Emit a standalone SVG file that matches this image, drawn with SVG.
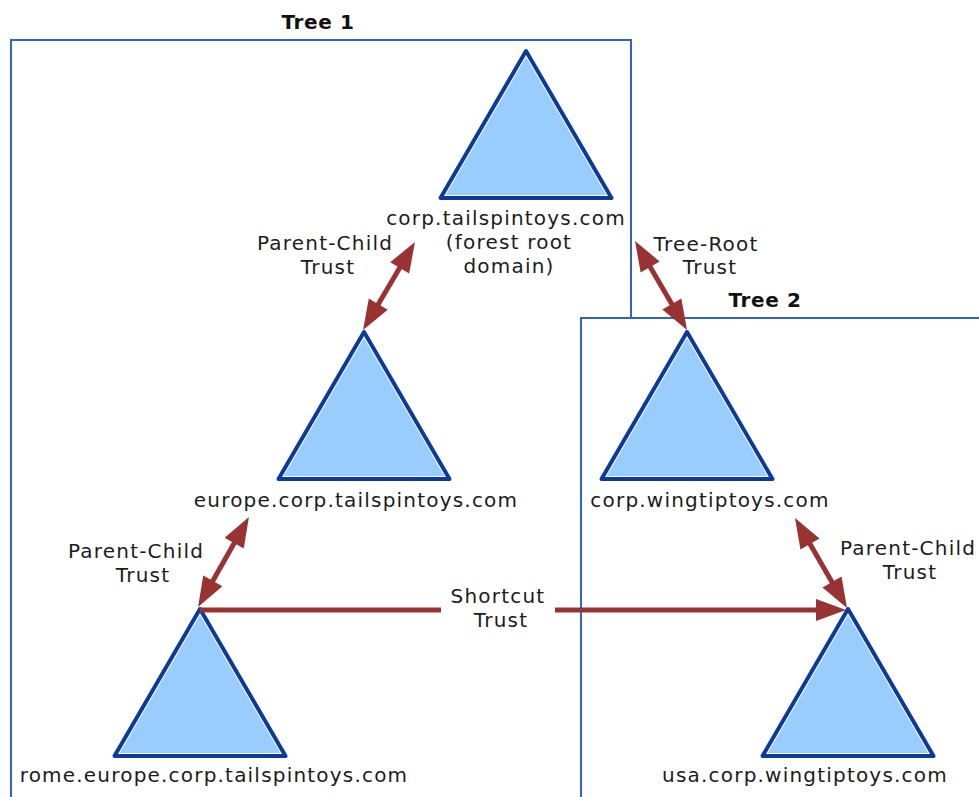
<svg xmlns="http://www.w3.org/2000/svg" xmlns:xlink="http://www.w3.org/1999/xlink" width="979" height="797" viewBox="0 0 979 797">
  <style>
    .box { fill: #ffffff; stroke: #3063c4; stroke-width: 2; }
    .tri-fill { fill: #99ccff; }
    .tri-glint { fill: none; stroke: #ffffff; stroke-width: 6; }
    .tri-edge { fill: none; stroke: #0b3a9c; stroke-width: 4; stroke-linejoin: round; }
    .label { font-family: "DejaVu Sans", Verdana, sans-serif; font-size: 20px; letter-spacing: 1.2px; fill: #1c1c1c; text-anchor: middle; }
    .title { font-family: "DejaVu Sans", Verdana, sans-serif; font-size: 20px; font-weight: bold; letter-spacing: 0.6px; fill: #111111; text-anchor: middle; }
    .trust { fill: none; stroke: #993333; stroke-width: 5; }
  </style>
  <defs>
    <!-- domain triangle, apex at the origin -->
    <path id="domain" d="M0,0 L85.5,147 L-85.5,147 Z"/>
    <clipPath id="domainClip" clipPathUnits="userSpaceOnUse">
      <use xlink:href="#domain"/>
    </clipPath>
    <marker id="head" markerUnits="userSpaceOnUse" markerWidth="30" markerHeight="22"
            refX="10" refY="11" orient="auto-start-reverse" overflow="visible">
      <path d="M0,0 L30,11 L0,22 Z" fill="#993333"/>
    </marker>
  </defs>

  <!-- tree containers -->
  <g id="tree1">
    <rect class="box" x="11" y="40" width="620" height="900"/>
    <text class="title" x="318" y="29">Tree 1</text>
  </g>
  <g id="tree2">
    <rect class="box" x="581" y="318" width="500" height="600"/>
    <text class="title" x="765" y="307">Tree 2</text>
  </g>

  <!-- domains -->
  <g id="corp-tailspintoys">
    <g transform="translate(526,51)">
      <use xlink:href="#domain" class="tri-fill"/>
      <use xlink:href="#domain" class="tri-glint" clip-path="url(#domainClip)"/>
      <use xlink:href="#domain" class="tri-edge"/>
    </g>
    <text class="label" x="506" y="225">corp.tailspintoys.com</text>
    <text class="label" x="509" y="249">(forest root</text>
    <text class="label" x="509" y="273">domain)</text>
  </g>

  <g id="europe-corp-tailspintoys">
    <g transform="translate(364,332)">
      <use xlink:href="#domain" class="tri-fill"/>
      <use xlink:href="#domain" class="tri-glint" clip-path="url(#domainClip)"/>
      <use xlink:href="#domain" class="tri-edge"/>
    </g>
    <text class="label" x="356" y="507">europe.corp.tailspintoys.com</text>
  </g>

  <g id="rome-europe-corp-tailspintoys">
    <g transform="translate(200,609)">
      <use xlink:href="#domain" class="tri-fill"/>
      <use xlink:href="#domain" class="tri-glint" clip-path="url(#domainClip)"/>
      <use xlink:href="#domain" class="tri-edge"/>
    </g>
    <text class="label" x="214" y="782">rome.europe.corp.tailspintoys.com</text>
  </g>

  <g id="corp-wingtiptoys">
    <g transform="translate(687,332)">
      <use xlink:href="#domain" class="tri-fill"/>
      <use xlink:href="#domain" class="tri-glint" clip-path="url(#domainClip)"/>
      <use xlink:href="#domain" class="tri-edge"/>
    </g>
    <text class="label" x="710" y="507">corp.wingtiptoys.com</text>
  </g>

  <g id="usa-corp-wingtiptoys">
    <g transform="translate(848,609)">
      <use xlink:href="#domain" class="tri-fill"/>
      <use xlink:href="#domain" class="tri-glint" clip-path="url(#domainClip)"/>
      <use xlink:href="#domain" class="tri-edge"/>
    </g>
    <text class="label" x="805" y="782">usa.corp.wingtiptoys.com</text>
  </g>

  <!-- trust relationships -->
  <g id="trusts">
    <path class="trust" d="M404.8,259.2 L373.2,312.8" marker-start="url(#head)" marker-end="url(#head)"/>
    <path class="trust" d="M645.1,258.3 L676.9,312.7" marker-start="url(#head)" marker-end="url(#head)"/>
    <path class="trust" d="M239.1,534.4 L207.9,589.6" marker-start="url(#head)" marker-end="url(#head)"/>
    <path class="trust" d="M805,535.3 L837,590.7" marker-start="url(#head)" marker-end="url(#head)"/>
    <path class="trust" d="M200,610 H441"/>
    <path class="trust" d="M555,610 H826" marker-end="url(#head)"/>

    <text class="label" x="325" y="250">Parent-Child</text>
    <text class="label" x="328" y="274">Trust</text>
    <text class="label" x="706" y="251">Tree-Root</text>
    <text class="label" x="710" y="274">Trust</text>
    <text class="label" x="136" y="558">Parent-Child</text>
    <text class="label" x="143" y="582">Trust</text>
    <text class="label" x="498" y="603">Shortcut</text>
    <text class="label" x="501" y="627">Trust</text>
    <text class="label" x="908" y="555">Parent-Child</text>
    <text class="label" x="910" y="579">Trust</text>
  </g>
</svg>
